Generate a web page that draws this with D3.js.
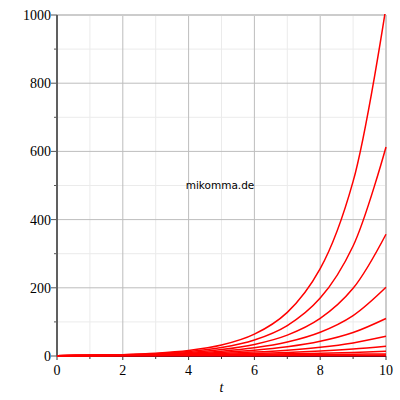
<!DOCTYPE html>
<html>
<head>
<meta charset="utf-8">
<script src="https://cdn.jsdelivr.net/npm/d3@7"></script>
<style>
body { margin: 0; background: #fff; }
svg { display: block; }
</style>
</head>
<body>
<div id="chart"></div>
<script>
// t-Werte und Kurven
var tWerte = [0, 1, 2, 3, 4, 5, 6, 7, 8, 9, 10];
var kurve20 = [1, 2, 4, 8, 16, 32, 64, 128, 256, 512, 1024];
var kurve19 = [1, 1.9, 3.61, 6.86, 13.03, 24.76, 47.05, 89.39, 169.8, 322.7, 613.1];
var kurve18 = [1, 1.8, 3.24, 5.83, 10.5, 18.9, 34.01, 61.22, 110.2, 198.4, 357.0];
var kurve17 = [1, 1.7, 2.89, 4.91, 8.35, 14.2, 24.14, 41.03, 69.76, 118.6, 201.6];
var kurve16 = [1, 1.6, 2.56, 4.1, 6.55, 10.49, 16.78, 26.84, 42.95, 68.72, 109.95];
var kurve15 = [1, 1.5, 2.25, 3.38, 5.06, 7.59, 11.39, 17.09, 25.63, 38.44, 57.67];
var kurve14 = [1, 1.4, 1.96, 2.74, 3.84, 5.38, 7.53, 10.54, 14.76, 20.66, 28.93];
var kurve13 = [1, 1.3, 1.69, 2.2, 2.86, 3.71, 4.83, 6.27, 8.16, 10.6, 13.79];
var kurve12 = [1, 1.2, 1.44, 1.73, 2.07, 2.49, 2.99, 3.58, 4.3, 5.16, 6.19];
var kurve11 = [1, 1.1, 1.21, 1.33, 1.46, 1.61, 1.77, 1.95, 2.14, 2.36, 2.59];
var kurve10 = [1, 1, 1, 1, 1, 1, 1, 1, 1, 1, 1];
var kurven = [kurve10, kurve11, kurve12, kurve13, kurve14, kurve15, kurve16, kurve17, kurve18, kurve19, kurve20];

var xTicks = [0, 2, 4, 6, 8, 10];
var yTicks = [0, 200, 400, 600, 800, 1000];

var margin = {top: 15, right: 14, bottom: 44, left: 57};
var width = 400 - margin.left - margin.right,
    height = 400 - margin.top - margin.bottom;

var x = d3.scaleLinear().domain([0, 10]).range([0, width]);
var y = d3.scaleLinear().domain([0, 1000]).range([height, 0]);

var svg = d3.select("#chart").append("svg")
    .attr("width", 400)
    .attr("height", 400)
  .append("g")
    .attr("transform", "translate(" + margin.left + "," + margin.top + ")");

// Gitter: fein
svg.append("g").selectAll("line")
    .data(d3.range(1, 10, 2))
  .enter().append("line")
    .attr("x1", function(d) { return x(d); }).attr("x2", function(d) { return x(d); })
    .attr("y1", 0).attr("y2", height)
    .attr("stroke", "#ebebeb");
svg.append("g").selectAll("line")
    .data(d3.range(100, 1000, 200))
  .enter().append("line")
    .attr("y1", function(d) { return y(d); }).attr("y2", function(d) { return y(d); })
    .attr("x1", 0).attr("x2", width)
    .attr("stroke", "#ebebeb");

// Gitter: grob
svg.append("g").selectAll("line")
    .data(xTicks.slice(1))
  .enter().append("line")
    .attr("x1", function(d) { return x(d); }).attr("x2", function(d) { return x(d); })
    .attr("y1", 0).attr("y2", height)
    .attr("stroke", function(d) { return d == 10 ? "#cccccc" : "#bdbdbd"; })
    .attr("stroke-width", function(d) { return d == 10 ? 2 : 1; });
svg.append("g").selectAll("line")
    .data(yTicks.slice(1))
  .enter().append("line")
    .attr("y1", function(d) { return y(d); }).attr("y2", function(d) { return y(d); })
    .attr("x1", 0).attr("x2", width)
    .attr("stroke", function(d) { return d == 1000 ? "#cccccc" : "#bdbdbd"; })
    .attr("stroke-width", function(d) { return d == 1000 ? 2 : 1; });

// Achsen
svg.append("g").selectAll("line")
    .data(d3.range(0, 1001, 100))
  .enter().append("line")
    .attr("x1", function(d) { return d % 200 == 0 ? -6 : -3; }).attr("x2", 0)
    .attr("y1", function(d) { return y(d); }).attr("y2", function(d) { return y(d); })
    .attr("stroke", "#555");
svg.append("g").selectAll("line")
    .data(d3.range(0, 11, 1))
  .enter().append("line")
    .attr("y1", height).attr("y2", function(d) { return d % 2 == 0 ? height + 4 : height + 3; })
    .attr("x1", function(d) { return x(d); }).attr("x2", function(d) { return x(d); })
    .attr("stroke", "#333");

svg.append("line")
    .attr("x1", 0).attr("x2", 0).attr("y1", 0).attr("y2", height)
    .attr("stroke", "#606060").attr("stroke-width", 2);
svg.append("line")
    .attr("x1", 0).attr("x2", width).attr("y1", height).attr("y2", height)
    .attr("stroke", "#10103a").attr("stroke-width", 2);

// Kurven
svg.append("clipPath").attr("id", "clip")
  .append("rect").attr("x", -1).attr("y", -1).attr("width", width + 2).attr("height", height + 2);

var line = d3.line()
    .x(function(d, i) { return x(tWerte[i]); })
    .y(function(d) { return y(d); })
    .curve(d3.curveCatmullRom.alpha(0.5));

svg.append("g").attr("clip-path", "url(#clip)").selectAll("path")
    .data(kurven)
  .enter().append("path")
    .attr("d", line)
    .attr("fill", "none")
    .attr("stroke", "#ff0000")
    .attr("stroke-width", 1.5);

// Beschriftungen
svg.append("g").selectAll("text")
    .data(yTicks)
  .enter().append("text")
    .attr("x", -6)
    .attr("y", function(d) { return y(d); })
    .attr("dy", "0.35em")
    .attr("text-anchor", "end")
    .attr("font-family", "Liberation Serif, Times New Roman, serif")
    .attr("font-size", 14)
    .text(function(d) { return d; });

svg.append("g").selectAll("text")
    .data(xTicks)
  .enter().append("text")
    .attr("x", function(d) { return x(d); })
    .attr("y", height + 19)
    .attr("text-anchor", "middle")
    .attr("font-family", "Liberation Serif, Times New Roman, serif")
    .attr("font-size", 14)
    .text(function(d) { return d; });

svg.append("text")
    .attr("x", x(5))
    .attr("y", height + 36)
    .attr("text-anchor", "middle")
    .attr("font-family", "Liberation Serif, Times New Roman, serif")
    .attr("font-style", "italic")
    .attr("font-size", 14)
    .text("t");

svg.append("text")
    .attr("x", 220 - margin.left)
    .attr("y", 189 - margin.top)
    .attr("text-anchor", "middle")
    .attr("font-family", "DejaVu Sans, sans-serif")
    .attr("font-size", 10.5)
    .text("mikomma.de");
</script>
</body>
</html>
